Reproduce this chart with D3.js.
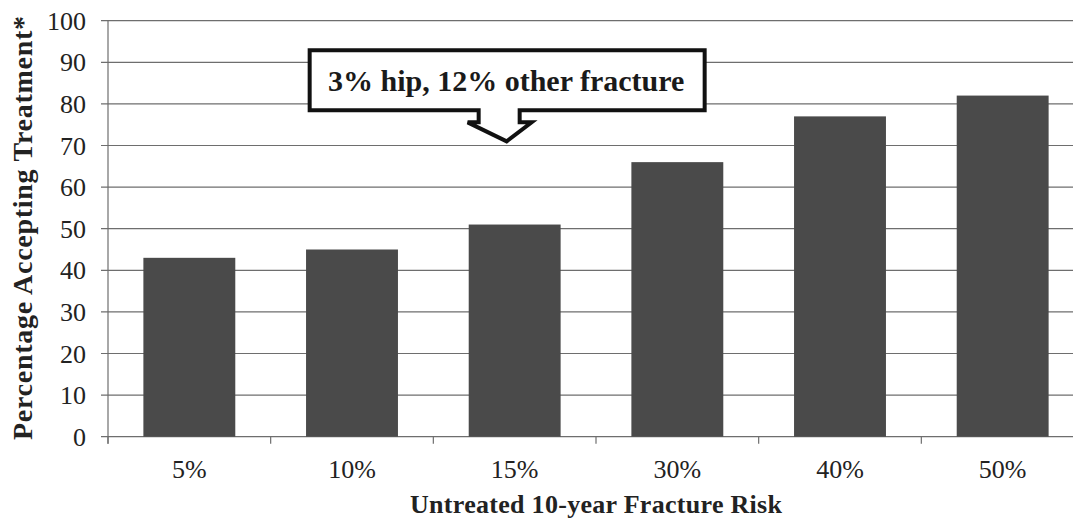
<!DOCTYPE html>
<html><head><meta charset="utf-8">
<script src="https://cdn.jsdelivr.net/npm/d3@7"></script>
<style>body{margin:0;background:#fff}svg{display:block}</style>
</head><body>
<svg id="c" width="1073" height="519"></svg>
<script>
const categories = ["5%","10%","15%","30%","40%","50%"];
const values = [43,45,51,66,77,82];
const yTicks = [0,10,20,30,40,50,60,70,80,90,100];
const calloutText = "3% hip, 12% other fracture";
const calloutCategory = "15%";
const calloutValue = 71;

(function(){
const svg = d3.select("#c");
const font = "'Liberation Serif','Times New Roman',serif";
const pl = 108, pr = 1084, pt = 20.7, pb = 436.7;

const x = d3.scaleBand().domain(categories).range([pl, pr]).paddingInner(0.435).paddingOuter(0.2175);
const y = d3.scaleLinear().domain([0,100]).range([pb, pt]);

svg.append("g").selectAll("line").data(yTicks).join("line")
  .attr("x1", pl - 7).attr("x2", 1073)
  .attr("y1", d => y(d)).attr("y2", d => y(d))
  .attr("stroke", "#6e6e6e").attr("stroke-width", 1.2);

svg.append("line").attr("x1", pl).attr("x2", pl).attr("y1", pt).attr("y2", pb + 7)
  .attr("stroke", "#6e6e6e").attr("stroke-width", 1.2);

const step = x.step();
const bounds = d3.range(categories.length + 1).map(i => pl + i * step);
svg.append("g").selectAll("line").data(bounds).join("line")
  .attr("x1", d => d).attr("x2", d => d).attr("y1", pb).attr("y2", pb + 7)
  .attr("stroke", "#6e6e6e").attr("stroke-width", 1.2);

svg.append("g").selectAll("rect").data(values).join("rect")
  .attr("x", (d,i) => x(categories[i])).attr("width", x.bandwidth())
  .attr("y", d => y(d)).attr("height", d => y(0) - y(d))
  .attr("fill", "#4a4a4a");

svg.append("g").selectAll("text").data(yTicks).join("text")
  .attr("x", 86).attr("y", d => y(d)).attr("dy", "0.35em")
  .attr("text-anchor", "end").attr("font-family", font).attr("font-size", 26)
  .attr("fill", "#222").text(d => d);

svg.append("g").selectAll("text").data(categories).join("text")
  .attr("x", d => x(d) + x.bandwidth()/2).attr("y", 478)
  .attr("text-anchor", "middle").attr("font-family", font).attr("font-size", 26)
  .attr("fill", "#222").text(d => d);

svg.append("text").attr("x", 596).attr("y", 513).attr("text-anchor", "middle")
  .attr("font-family", font).attr("font-size", 26).attr("font-weight", "bold")
  .attr("fill", "#222").attr("textLength", 372).attr("lengthAdjust", "spacing")
  .text("Untreated 10-year Fracture Risk");
svg.append("text").attr("transform", "translate(32,228) rotate(-90)").attr("text-anchor", "middle")
  .attr("font-family", font).attr("font-size", 28).attr("font-weight", "bold")
  .attr("fill", "#222").attr("textLength", 424).attr("lengthAdjust", "spacing")
  .text("Percentage Accepting Treatment*");

const tipX = x(calloutCategory) + x.bandwidth()/2 - 8;
const tipY = y(calloutValue);
const bx0 = tipX - 197, bx1 = tipX + 198, by0 = tipY - 91, by1 = tipY - 31;
const path = [
  [bx0, by0],[bx1, by0],[bx1, by1],[tipX + 13, by1],[tipX + 13, tipY - 19],
  [tipX + 25, tipY - 19],[tipX, tipY],[tipX - 39, tipY - 19],[tipX - 28, tipY - 19],
  [tipX - 28, by1],[bx0, by1]
];
svg.append("path").attr("d", d3.line()(path) + "Z")
  .attr("fill", "#fff").attr("stroke", "#111").attr("stroke-width", 4).attr("stroke-linejoin", "miter");
svg.append("text").attr("x", (bx0 + bx1)/2 - 1).attr("y", (by0 + by1)/2).attr("dy", "0.35em")
  .attr("text-anchor", "middle").attr("font-family", font).attr("font-size", 30).attr("font-weight", "bold")
  .attr("fill", "#1a1a1a").text(calloutText);
})();
</script>
</body></html>
